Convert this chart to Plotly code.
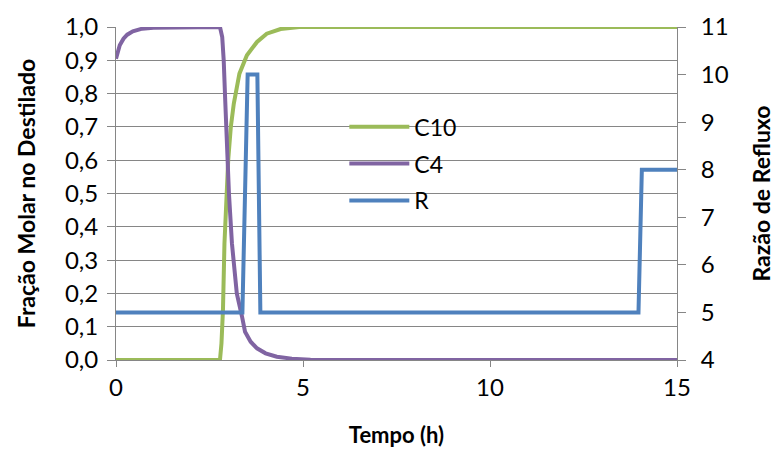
import plotly.graph_objects as go

# Data
t_c10 = [0, 2.78, 2.82, 2.86, 2.90, 2.95, 3.00, 3.07, 3.15, 3.30, 3.50, 3.77, 4.03, 4.40, 4.90, 15]
c10 = [0, 0, 0.05, 0.15, 0.35, 0.50, 0.60, 0.70, 0.77, 0.86, 0.915, 0.955, 0.98, 0.994, 1.0, 1.0]

t_c4 = [0, 0.05, 0.1, 0.2, 0.3, 0.45, 0.7, 1.0, 2.0, 2.78, 2.84, 2.88, 2.92, 2.97, 3.02, 3.10,
        3.23, 3.37, 3.45, 3.60, 3.77, 4.00, 4.30, 4.70, 5.20, 6.0, 15]
c4 = [0.905, 0.93, 0.945, 0.965, 0.977, 0.987, 0.995, 0.998, 1.0, 1.0, 0.97, 0.90, 0.78, 0.62, 0.50, 0.35,
      0.20, 0.13, 0.085, 0.055, 0.035, 0.02, 0.01, 0.004, 0.001, 0, 0]

t_r = [0, 3.38, 3.52, 3.78, 3.86, 13.97, 14.06, 15]
r = [5, 5, 10, 10, 5, 5, 8, 8]

x_ticks = [0, 5, 10, 15]

FONT = "Lato"
GRAY = "#868686"

fig = go.Figure()
fig.add_trace(go.Scatter(x=t_c10, y=c10, name="C10", mode="lines",
                         line=dict(color="#9BBB59", width=4), legendgroup="a"))
fig.add_trace(go.Scatter(x=t_c4, y=c4, name="C4", mode="lines",
                         line=dict(color="#8064A2", width=4), legendgroup="b"))
fig.add_trace(go.Scatter(x=t_r, y=r, name="R", mode="lines", yaxis="y2",
                         line=dict(color="#4F81BD", width=4), legendgroup="c"))

fig.update_layout(
    width=778, height=454,
    margin=dict(l=116, r=101, t=27, b=94),
    paper_bgcolor="white", plot_bgcolor="white",
    separators=",.",
    font=dict(family=FONT, size=24, color="black"),
    showlegend=True,
    legend=dict(x=0.407, y=0.765, xanchor="left", yanchor="top",
                bgcolor="rgba(0,0,0,0)", tracegroupgap=4, itemwidth=60,
                font=dict(family=FONT, size=23)),
    xaxis=dict(range=[0, 15], tickvals=x_ticks, showgrid=False, automargin=False,
               showline=True, linecolor=GRAY, linewidth=1,
               ticks="outside", ticklen=6, tickcolor=GRAY,
               ticklabelstandoff=0,
               title=dict(text="<b>Tempo (h)</b>", font=dict(size=22), standoff=27),
               zeroline=False),
    yaxis=dict(range=[0, 1], dtick=0.1, tickformat=".1f", automargin=False,
               showgrid=True, gridcolor=GRAY, gridwidth=1,
               showline=True, linecolor=GRAY, linewidth=1,
               ticks="outside", ticklen=8, tickcolor=GRAY,
               ticklabelstandoff=4,
               title=dict(text="<b>Fração Molar no Destilado</b>", font=dict(size=23), standoff=22),
               zeroline=False),
    yaxis2=dict(range=[4, 11], dtick=1, overlaying="y", side="right", automargin=False,
                showgrid=False, showline=True, linecolor=GRAY, linewidth=1,
                ticks="outside", ticklen=8, tickcolor=GRAY,
                ticklabelstandoff=10,
                title=dict(text="<b>Razão de Refluxo</b>", font=dict(size=23), standoff=26),
                zeroline=False),
)

fig.write_html("out.html")
